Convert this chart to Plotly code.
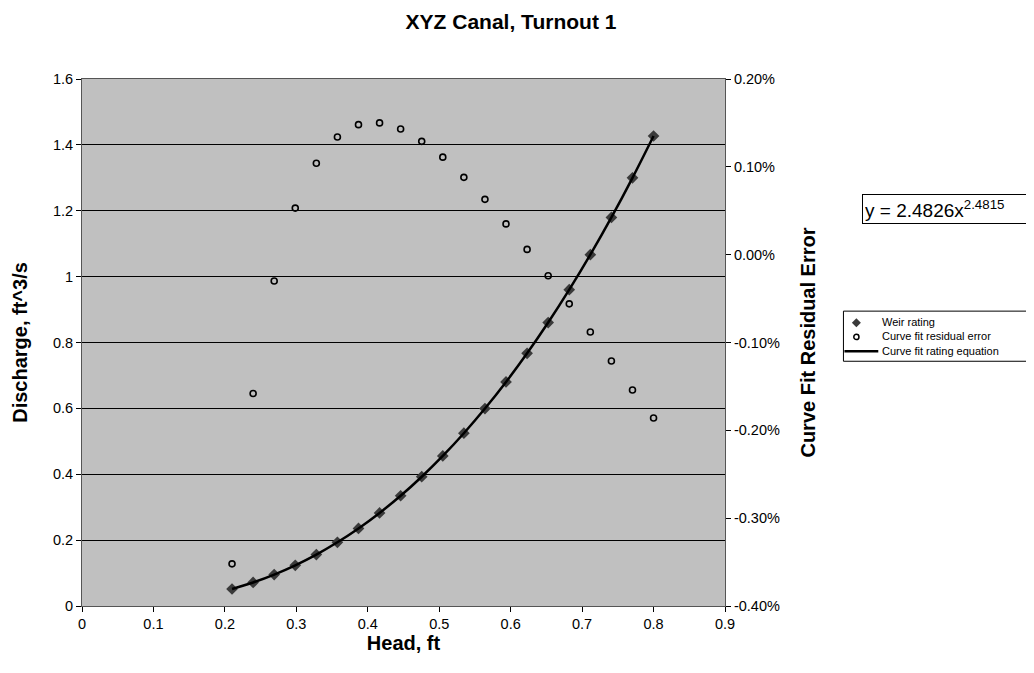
import plotly.graph_objects as go

head_ft = [0.21, 0.2395, 0.269, 0.2985, 0.328, 0.3575, 0.387, 0.4165, 0.446, 0.4755,
           0.505, 0.5345, 0.564, 0.5935, 0.623, 0.6525, 0.682, 0.7115, 0.741, 0.7705, 0.80]
discharge_cfs = [0.0516, 0.0715, 0.0955, 0.1236, 0.1561, 0.1934, 0.2354, 0.2825, 0.3347, 0.3925,
                 0.4557, 0.5246, 0.5994, 0.6802, 0.7672, 0.8606, 0.9604, 1.0667, 1.1797, 1.3000, 1.4270]
residual_err = [-0.00352, -0.00158, -0.00030, 0.00053, 0.00104, 0.00134, 0.00148, 0.00150, 0.00143, 0.00129,
                0.00111, 0.00088, 0.00063, 0.00035, 0.00006, -0.00024, -0.00056, -0.00088, -0.00121, -0.00154, -0.00186]
residual_tickvals = [-0.004, -0.003, -0.002, -0.001, 0.0, 0.001, 0.002]
residual_ticktext = ["-0.40%", "-0.30%", "-0.20%", "-0.10%", "0.00%", "0.10%", "0.20%"]
series_names = ["Weir rating", "Curve fit residual error", "Curve fit rating equation"]
equation_text = "y = 2.4826x<sup>2.4815</sup>"

FONT = "Liberation Sans, Arial, sans-serif"

# plot area in page pixels (page has an 8px body margin)
PL, PR, PT, PB = 79, 725, 79, 605.7


def px(x):
    return (x - PL) / (PR - PL)


def py(y):
    return (PB - y) / (PB - PT)


fig = go.Figure()
fig.add_trace(go.Scatter(
    x=head_ft, y=discharge_cfs, mode="markers", name=series_names[0],
    marker=dict(symbol="diamond", size=9, color="#3a3a3a", line=dict(width=0)),
))
fig.add_trace(go.Scatter(
    x=head_ft, y=residual_err, mode="markers", name=series_names[1], yaxis="y2",
    marker=dict(symbol="circle-open", size=6, color="black", line=dict(width=1.6, color="black")),
))
fig.add_trace(go.Scatter(
    x=head_ft, y=discharge_cfs, mode="lines", name=series_names[2],
    line=dict(color="black", width=2.5, shape="spline"),
))

fig.update_layout(
    width=1034, height=673,
    margin=dict(l=71, r=317, t=71, b=75),
    paper_bgcolor="white", plot_bgcolor="#C0C0C0",
    font=dict(family=FONT, size=14.5, color="black"),
    title=dict(text="<b>XYZ Canal, Turnout 1</b>", x=(511 - 8) / 1034, xanchor="center",
               xref="container", yref="container",
               y=1 - 14 / 673, yanchor="middle", font=dict(size=21)),
    xaxis=dict(range=[0, 0.9], dtick=0.1, tick0=0, showgrid=False, zeroline=False,
               ticks="outside", ticklen=5, tickcolor="black", showline=True, linecolor="#555",
               mirror=True, linewidth=1,
               title=dict(text="<b>Head, ft</b>", font=dict(size=20), standoff=1),
               tickfont=dict(size=14.5)),
    yaxis=dict(range=[0, 1.6], dtick=0.2, tick0=0, showgrid=True, gridcolor="black", gridwidth=1,
               zeroline=False, ticks="outside", ticklen=5, tickcolor="black", showline=True,
               linecolor="#555", linewidth=1, mirror=True,
               title=dict(text="<b>Discharge, ft^3/s</b>", font=dict(size=20), standoff=19),
               tickfont=dict(size=14.5)),
    yaxis2=dict(range=[-0.004, 0.002], tickmode="array", tickvals=residual_tickvals,
                ticktext=residual_ticktext, overlaying="y", side="right",
                showgrid=False, zeroline=False, ticks="outside", ticklen=5,
                tickcolor="black", showline=True, linecolor="#555", linewidth=1,
                title=dict(text="<b>Curve Fit Residual Error</b>", font=dict(size=20), standoff=22),
                tickfont=dict(size=14.5)),
    showlegend=False,
)

# Equation box (runs off the right edge as in the reference)
fig.add_annotation(
    text=equation_text, xref="paper", yref="paper",
    x=px(863), y=py(209), xanchor="left", yanchor="middle",
    showarrow=False, align="left", font=dict(size=19, family=FONT), width=185,
    bordercolor="black", borderwidth=1, borderpad=2, bgcolor="white",
)

# Legend (compact, Excel-like)
LEG_FS = 11
row_gap = LEG_FS * 1.3
rows_y = [322.5, 322.5 + row_gap, 322.5 + 2 * row_gap]
box_l, box_r, box_t, box_b = 844, 1040, 311, rows_y[2] + 10
fig.add_shape(type="rect", xref="paper", yref="paper",
              x0=px(box_l), x1=px(box_r), y0=py(box_b), y1=py(box_t),
              line=dict(color="black", width=1), fillcolor="white", layer="above")
sym_x = 857
d = 4.5
fig.add_shape(type="path", xref="paper", yref="paper",
              path=(f"M {px(sym_x)},{py(rows_y[0] - d)} L {px(sym_x + d)},{py(rows_y[0])} "
                    f"L {px(sym_x)},{py(rows_y[0] + d)} L {px(sym_x - d)},{py(rows_y[0])} Z"),
              fillcolor="#3a3a3a", line=dict(width=0), layer="above")
r = 2.6
fig.add_shape(type="circle", xref="paper", yref="paper",
              x0=px(sym_x - r), x1=px(sym_x + r), y0=py(rows_y[1] + r), y1=py(rows_y[1] - r),
              line=dict(color="black", width=1.5), fillcolor="rgba(0,0,0,0)", layer="above")
fig.add_shape(type="line", xref="paper", yref="paper",
              x0=px(845), x1=px(879), y0=py(rows_y[2]), y1=py(rows_y[2]),
              line=dict(color="black", width=2.5), layer="above")
fig.add_annotation(text="<br>".join(series_names), xref="paper", yref="paper",
                   x=px(881), y=py(rows_y[1]), xanchor="left", yanchor="middle",
                   align="left", showarrow=False, font=dict(size=LEG_FS, family=FONT))

fig.write_html("out.html")
